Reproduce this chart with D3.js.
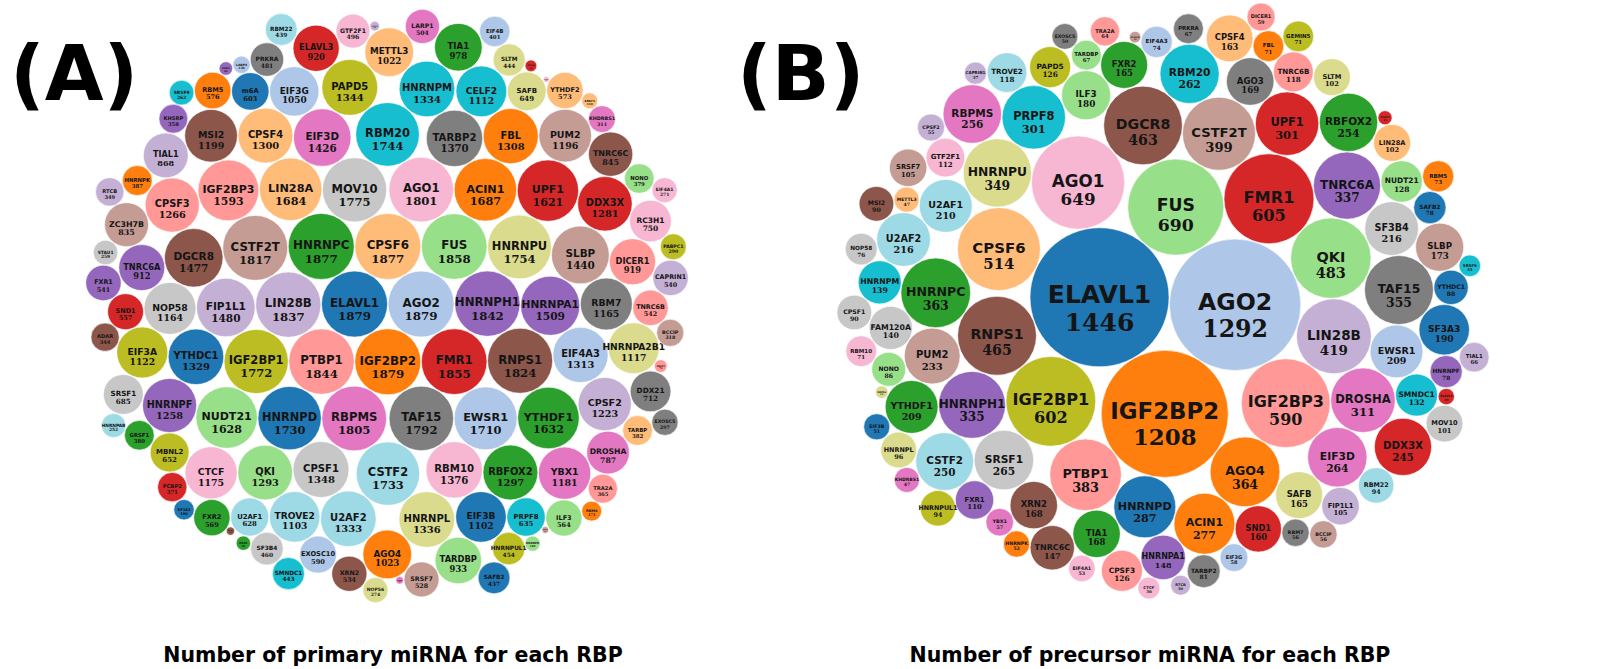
<!DOCTYPE html>
<html>
<head>
<meta charset="utf-8">
<script src="https://cdn.jsdelivr.net/npm/d3@7"></script>
<style>
  body { margin: 0; background: #fff; }
  .name { font-family: "DejaVu Sans", sans-serif; font-weight: bold; }
  .count { font-family: "DejaVu Serif", serif; font-weight: bold; }
</style>
</head>
<body>
<svg width="1623" height="669"></svg>
<script>
// primary miRNA per RBP (panel A), sorted as in the source
var primaryNames = ["ELAVL1","AGO2","IGF2BP2","CPSF6","HNRNPC","FUS","FMR1","PTBP1","HNRNPH1","LIN28B",
  "RNPS1","CSTF2T","RBPMS","AGO1","TAF15","MOV10","IGF2BP1","HNRNPU","RBM20","CSTF2",
  "HNRNPD","EWSR1","ACIN1","LIN28A","YTHDF1","NUDT21","UPF1","IGF2BP3","HNRNPA1","FIP1L1",
  "DGCR8","SLBP","EIF3D","RBM10","TARBP2","CPSF1","PAPD5","HNRNPL","HNRNPM","U2AF2",
  "YTHDC1","EIF4A3","FBL","CPSF4","RBFOX2","QKI","DDX3X","CPSF3","HNRNPF","CPSF2",
  "MSI2","PUM2","YBX1","CTCF","RBM7","NOP58","EIF3A","HNRNPA2B1","CELF2","TROVE2",
  "EIF3B","EIF3G","AGO4","METTL3","TIA1","TARDBP","ELAVL3","DICER1","TNRC6A","TIAL1",
  "TNRC6C","ZC3H7B","DROSHA","RC3H1","DDX21","SRSF1","MBNL2","SAFB","PRPF8","U2AF1",
  "m6A","EXOSC10","RBM5","YTHDF2","FXR2","ILF3","SND1","TNRC6B","FXR1","CAPRIN1",
  "XRN2","SRSF7","LARP1","GTF2F1","PRKRA","SF3B4","HNRNPUL1","SLTM","SMNDC1","RBM22",
  "SAFB2","EIF4B","HNRNPK","TARBP","GRSF1","NONO","PCBP2","TRA2A","KHSRP","RTCB",
  "ADAR","BCCIP","KHDRBS1","EIF4A1","EXOSC5","STAU1","PABPC1","NOP56","SRSF9","HNRNPAB",
  "SF3A3","LARP4","RBM4","SRSF3","DDX6","HNRNPR","ZFP36","SRSF2","PUM1","CSTF1",
  "DDX5","BUD13","NCBP2","SRSF5"];
var primaryCounts = [1879,1879,1879,1877,1877,1858,1855,1844,1842,1837,
  1824,1817,1805,1801,1792,1775,1772,1754,1744,1733,
  1730,1710,1687,1684,1632,1628,1621,1593,1509,1480,
  1477,1440,1426,1376,1370,1348,1344,1336,1334,1333,
  1329,1313,1308,1300,1297,1293,1281,1266,1258,1223,
  1199,1196,1181,1175,1165,1164,1122,1117,1112,1103,
  1102,1050,1023,1022,978,933,920,919,912,868,
  845,835,787,750,712,685,652,649,635,628,
  603,590,576,573,569,564,557,542,541,540,
  534,528,504,496,481,460,454,444,443,439,
  437,401,387,382,380,379,371,365,358,349,
  344,318,311,271,297,259,290,274,262,252,
  180,130,171,110,90,100,60,70,80,40,
  30,20,25,15];

// precursor miRNA per RBP (panel B)
var precursorNames = ["ELAVL1","AGO2","IGF2BP2","FUS","AGO1","FMR1","IGF2BP1","IGF2BP3","CPSF6","QKI",
  "RNPS1","DGCR8","LIN28B","CSTF2T","PTBP1","AGO4","HNRNPC","TAF15","HNRNPU","TNRC6A",
  "HNRNPH1","DROSHA","PRPF8","UPF1","HNRNPD","ACIN1","SRSF1","EIF3D","RBM20","RBPMS",
  "RBFOX2","CSTF2","DDX3X","PUM2","U2AF2","SF3B4","U2AF1","EWSR1","YTHDF1","SF3A3",
  "ILF3","SLBP","AGO3","TIA1","XRN2","FXR2","SAFB","CPSF4","SND1","HNRNPA1",
  "TNRC6C","FAM120A","HNRNPM","SMNDC1","NUDT21","CPSF3","PAPD5","TNRC6B","TROVE2","GTF2F1",
  "FXR1","SRSF7","FIP1L1","LIN28A","SLTM","MOV10","HNRNPL","RBM22","HNRNPUL1","CPSF1",
  "MSI2","YTHDC1","NONO","TARBP2","HNRNPF","SAFB2","NOP58","EIF4A3","RBM5","RBM10",
  "FBL","TARDBP","PRKRA","TIAL1","TRA2A","DICER1","EIF3G","YBX1","BCCIP","RBM7",
  "CPSF2","EIF4A1","HNRNPK","EIF3B","KHDRBS1","METTL3","CTCF","SRSF9","ELAVL3","RTCB",
  "GEMIN5","CAPRIN1","EXOSC5","PCBP2","NOP56","ZC3H7B"];
var precursorCounts = [1446,1292,1208,690,649,605,602,590,514,483,
  465,463,419,399,383,364,363,355,349,337,
  335,311,301,301,287,277,265,264,262,256,
  254,250,245,233,216,216,210,209,209,190,
  180,173,169,168,168,165,165,163,160,148,
  147,140,139,132,128,126,126,118,118,112,
  110,105,105,102,102,101,96,94,94,90,
  90,88,86,81,78,78,76,74,73,71,
  71,67,67,66,64,59,58,57,56,56,
  55,53,52,51,47,47,36,35,20,30,
  71,37,50,15,12,10];

var panelTags = ["(A)", "(B)"];
var captions = ["Number of primary miRNA for each RBP", "Number of precursor miRNA for each RBP"];

var tab20 = ["#1f77b4","#aec7e8","#ff7f0e","#ffbb78","#2ca02c","#98df8a","#d62728","#ff9896",
  "#9467bd","#c5b0d5","#8c564b","#c49c94","#e377c2","#f7b6d2","#7f7f7f","#c7c7c7",
  "#bcbd22","#dbdb8d","#17becf","#9edae5"];

var svg = d3.select("svg");

// colours follow the RBP, so the same protein has the same colour in both panels
var color = d3.scaleOrdinal(tab20).domain(primaryNames);

function drawPanel(names, counts, cx, cy, rmax, squash) {
  var r = d3.scaleSqrt().domain([0, d3.max(counts)]).range([0, rmax]);
  var pad = 0.3;

  var nodes = names.map(function(n, i) {
    return { name: n, value: counts[i], rr: r(counts[i]), r: r(counts[i]) + pad };
  });

  d3.packSiblings(nodes);
  var enc = d3.packEnclose(nodes);
  nodes.forEach(function(d) { d.x -= enc.x; d.y -= enc.y; });

  // panel B is a bit wider than tall: relax the pack with a stronger vertical pull
  if (squash) {
    var sim = d3.forceSimulation(nodes)
        .force("x", d3.forceX(0).strength(0.01))
        .force("y", d3.forceY(0).strength(0.01 * squash))
        .force("collide", d3.forceCollide(function(d) { return d.r; }).iterations(4))
        .stop();
    for (var i = 0; i < 400; i++) sim.tick();
  }

  var x0 = d3.min(nodes, function(d) { return d.x - d.rr; }),
      x1 = d3.max(nodes, function(d) { return d.x + d.rr; }),
      y0 = d3.min(nodes, function(d) { return d.y - d.rr; }),
      y1 = d3.max(nodes, function(d) { return d.y + d.rr; });

  var g = svg.append("g")
      .attr("transform", "translate(" + (cx - (x0 + x1) / 2) + "," + (cy - (y0 + y1) / 2) + ")");

  var bubble = g.selectAll("g")
    .data(nodes)
    .enter().append("g")
      .attr("transform", function(d) { return "translate(" + d.x + "," + d.y + ")"; });

  bubble.append("circle")
      .attr("r", function(d) { return d.rr; })
      .attr("fill", function(d) { return color(d.name); })
      .attr("stroke", "#fff")
      .attr("stroke-width", 0.6);

  bubble.append("text")
      .attr("class", "name")
      .attr("text-anchor", "middle")
      .attr("fill", "#151515")
      .style("font-size", function(d) { return (d.rr * 0.36) + "px"; })
      .attr("y", function(d) { return d.rr * 0.36 * 0.24; })
      .text(function(d) { return d.name; });

  bubble.append("text")
      .attr("class", "count")
      .attr("text-anchor", "middle")
      .attr("fill", "#151515")
      .style("font-size", function(d) { return (d.rr * 0.36) + "px"; })
      .attr("y", function(d) { return d.rr * 0.36 * 1.36; })
      .text(function(d) { return d.value; });
}

drawPanel(primaryNames, primaryCounts, 387, 306, 33, 0);
drawPanel(precursorNames, precursorCounts, 1163, 301, 69.5, 2);

svg.selectAll(".tag")
  .data(panelTags)
  .enter().append("text")
    .attr("class", "tag")
    .attr("x", function(d, i) { return i ? 737 : 10; })
    .attr("y", 100)
    .style("font-family", "DejaVu Sans, sans-serif")
    .style("font-weight", "bold")
    .style("font-size", "76px")
    .text(function(d) { return d; });

svg.selectAll(".caption")
  .data(captions)
  .enter().append("text")
    .attr("class", "caption")
    .attr("x", function(d, i) { return i ? 1150 : 393; })
    .attr("y", 662)
    .attr("text-anchor", "middle")
    .style("font-family", "DejaVu Sans, sans-serif")
    .style("font-weight", "bold")
    .style("font-size", "20.5px")
    .text(function(d) { return d; });
</script>
</body>
</html>
